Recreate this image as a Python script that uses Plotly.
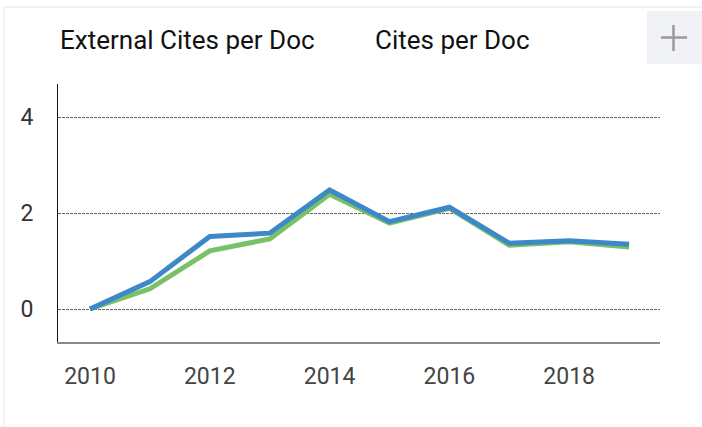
import plotly.graph_objects as go

years = [2010, 2011, 2012, 2013, 2014, 2015, 2016, 2017, 2018, 2019]
external_cites_per_doc = [0.0, 0.42, 1.21, 1.46, 2.39, 1.79, 2.10, 1.33, 1.40, 1.29]
cites_per_doc = [0.0, 0.57, 1.51, 1.58, 2.48, 1.82, 2.12, 1.37, 1.42, 1.35]
series_names = ["External Cites per Doc", "Cites per Doc"]
x_ticks = [2010, 2012, 2014, 2016, 2018]
y_ticks = [0, 2, 4]

W, H = 702, 427
L, R, T, B = 58, 42, 84, 85
pw, ph = W - L - R, H - T - B


def px(x):
    return (x - L) / pw


def py(y):
    return (H - B - y) / ph


fig = go.Figure()
fig.add_trace(go.Scatter(x=years, y=external_cites_per_doc, mode="lines",
                         name=series_names[0],
                         line=dict(color="#78c164", width=5)))
fig.add_trace(go.Scatter(x=years, y=cites_per_doc, mode="lines",
                         name=series_names[1],
                         line=dict(color="#3d88c9", width=5)))

shapes = [
    # card border
    dict(type="rect", xref="paper", yref="paper", x0=px(4), x1=px(720),
         y0=py(460), y1=py(7), line=dict(color="#e6e6e6", width=1),
         fillcolor="rgba(0,0,0,0)", layer="below"),
    # plus button box
    dict(type="rect", xref="paper", yref="paper", x0=px(647), x1=px(703),
         y0=py(64), y1=py(11), line=dict(width=0), fillcolor="#f1f2f6"),
    dict(type="line", xref="paper", yref="paper", x0=px(661), x1=px(687),
         y0=py(37.5), y1=py(37.5), line=dict(color="#9a9a9a", width=2.5)),
    dict(type="line", xref="paper", yref="paper", x0=px(673.5), x1=px(673.5),
         y0=py(25), y1=py(51), line=dict(color="#9a9a9a", width=2.5)),
]

annotations = [
    dict(text=series_names[0], xref="paper", yref="paper", x=px(58), y=py(40),
         xanchor="left", yanchor="middle", showarrow=False,
         font=dict(family="Roboto", size=26, color="#111111")),
    dict(text=series_names[1], xref="paper", yref="paper", x=px(373), y=py(40),
         xanchor="left", yanchor="middle", showarrow=False,
         font=dict(family="Roboto", size=26, color="#111111")),
]

fig.update_layout(
    width=W, height=H,
    margin=dict(l=L, r=R, t=T, b=B),
    paper_bgcolor="white", plot_bgcolor="white",
    showlegend=False,
    shapes=shapes,
    annotations=annotations,
    font=dict(family="Roboto"),
    xaxis=dict(range=[2009.466, 2019.516], tickvals=x_ticks,
               ticktext=[str(v) for v in x_ticks],
               showgrid=False, zeroline=False,
               showline=True, linecolor="#8a8a8a", linewidth=1.5,
               ticks="", ticklabelstandoff=13,
               tickfont=dict(family="Roboto", size=23, color="#444444")),
    yaxis=dict(range=[-0.6875, 4.6875], tickvals=y_ticks,
               ticktext=[str(v) for v in y_ticks],
               showgrid=True, gridcolor="#666666", gridwidth=1,
               griddash="3px,1px", zeroline=False,
               showline=True, linecolor="#111111", linewidth=1,
               ticks="", ticklabelstandoff=19,
               tickfont=dict(family="Roboto", size=23, color="#333333")),
)

fig.write_html("out.html", config={"displayModeBar": False},
               post_script="document.body.style.margin='0';document.body.style.overflow='hidden';")
